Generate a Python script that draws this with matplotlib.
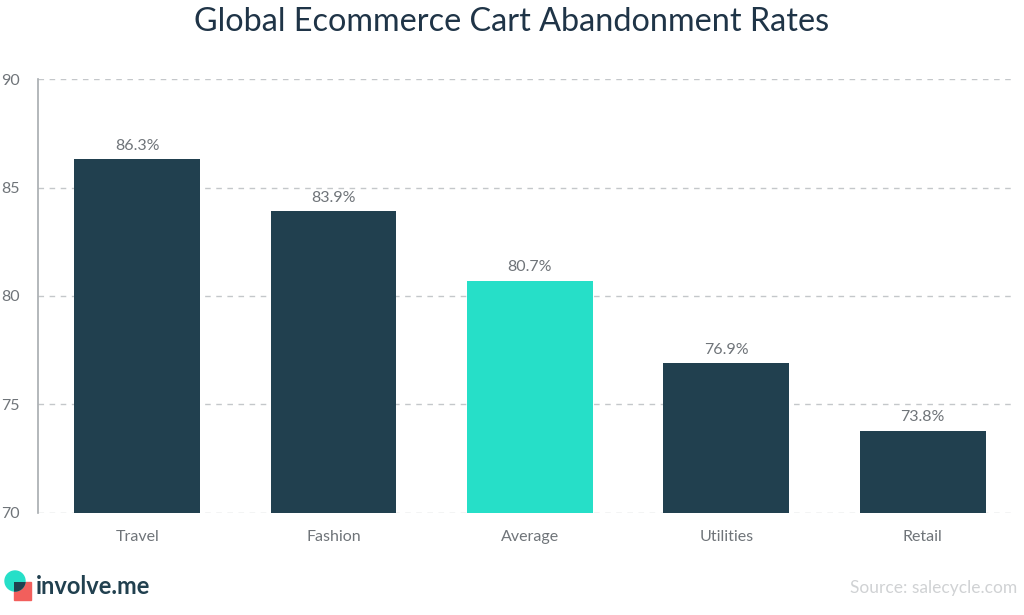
import matplotlib.pyplot as plt
from matplotlib.patches import Circle, Rectangle

categories = ["Travel", "Fashion", "Average", "Utilities", "Retail"]
rates = [86.3, 83.9, 80.7, 76.9, 73.8]
labels = ["86.3%", "83.9%", "80.7%", "76.9%", "73.8%"]
yticks = [70, 75, 80, 85, 90]

dark = "#21404f"
teal = "#26dfc8"
gray = "#6f7479"

plt.rcParams['font.family'] = ['Lato', 'DejaVu Sans']

fig = plt.figure(figsize=(10.24, 6.15), dpi=100)
ax = fig.add_axes([0.0371, 0.1659, 0.9541, 0.7056])

colors = [teal if c == "Average" else dark for c in categories]
x = range(len(categories))
bars = ax.bar(x, [r - 70 for r in rates], bottom=70, width=0.64, color=colors, zorder=3)
for b, lab in zip(bars, labels):
    ax.text(b.get_x() + b.get_width() / 2, b.get_y() + b.get_height() + 0.3, lab,
            ha="center", va="bottom", fontsize=11.5, color=gray)

ax.set_ylim(70, 90)
ax.set_xlim(-0.505, 4.47)
ax.set_yticks(yticks)
ax.set_xticks(list(x))
ax.set_xticklabels(categories)
ax.tick_params(axis="both", length=0, labelsize=11.5, colors=gray)
ax.tick_params(axis="x", pad=12)
ax.tick_params(axis="y", pad=13)
ax.yaxis.grid(True, linestyle=(0, (4, 4)), color="#c4c7ca", linewidth=1, zorder=0)
for s in ["top", "right", "bottom"]:
    ax.spines[s].set_visible(False)
ax.spines["left"].set_color("#a7abaf")
ax.spines["left"].set_linewidth(1.2)

fig.text(0.5, 1 - 22 / 615, "Global Ecommerce Cart Abandonment Rates", ha="center", va="center",
         fontsize=23.3, color="#1f3447")

# logo (drawn in pixel coordinates of a small overlay axes)
lax = fig.add_axes([0, 0, 40 / 1024, 1 - 560 / 615])
lax.set_xlim(0, 40)
lax.set_ylim(615, 560)
lax.axis("off")
sq = Rectangle((14, 582), 17, 18, color="#f25f5c", zorder=1)
lax.add_patch(sq)
lax.add_patch(Circle((15, 581), 10, color=teal, zorder=2))
ov = Circle((15, 581), 10, color=dark, zorder=3)
lax.add_patch(ov)
ov.set_clip_path(sq)
lax.set_aspect("equal", adjustable="datalim")
lax.set_xlim(0, 40)
lax.set_ylim(615, 560)

fig.text(36 / 1024, 1 - 586 / 615, "involve.me", ha="left", va="center", fontsize=17,
         fontweight="bold", color="#21404f")
fig.text(1017 / 1024, 1 - 588 / 615, "Source: salecycle.com", ha="right", va="center",
         fontsize=12.5, color="#d0d2d4")

fig.savefig("out.png", dpi=100)
